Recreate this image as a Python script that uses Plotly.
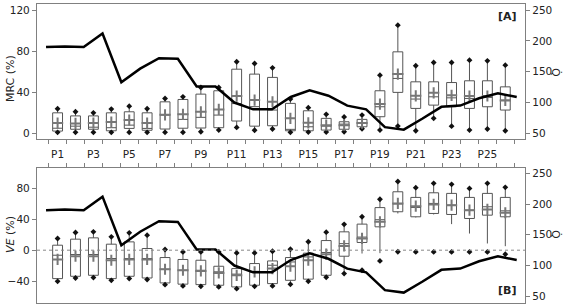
import plotly.graph_objects as go

# ---------------- data ----------------
periods = [f"P{i}" for i in range(1, 27)]
pos = list(range(1, 27))

# Panel A : MRC (%)
mrc_min  = [1, 1, 1, 1, 1, 1, 1, 1, 1.6, 3.2, 5.8, 3, 4.2, 1, 1.2, 1.2, 1.6, 4.5, 3.2, 7.1, 2.5, 14.6, 7, 3.2, 4.2, 2.5]
mrc_q1   = [2.2, 4, 4, 2.5, 4.8, 3, 4.2, 5, 5.2, 5.5, 12, 7, 7.4, 2.5, 2.5, 3.2, 4, 6.4, 16.2, 39.9, 24.3, 27.5, 25.9, 24.3, 25.9, 22.7]
mrc_med  = [5, 7, 6, 5.5, 8, 4.8, 17.8, 13.6, 15.6, 17.8, 29, 26, 22.7, 3.9, 6.4, 7, 9, 9.7, 25.9, 53.5, 33.4, 35.6, 34.6, 34, 35, 32.4]
mrc_q3   = [20, 17, 17, 20, 21, 20, 30.7, 33, 38.2, 41.5, 62.5, 57.7, 54.5, 29.2, 22, 14.6, 11.3, 13.6, 41.5, 79.4, 50.2, 50.2, 49.5, 51.2, 51.2, 45.3]
mrc_max  = [24, 21, 20, 23.6, 26.5, 24, 34, 35.6, 44.7, 44.7, 69.7, 68, 63.8, 33.4, 25, 18.5, 16, 17.8, 56.7, 105.4, 65.8, 69, 69, 71.3, 70.6, 66.4]
mrc_mean = [10, 9.7, 10, 11, 13, 10, 18, 18.5, 21, 23.3, 36.3, 32.4, 30.8, 14.6, 10.3, 8, 8, 10, 28.5, 57.7, 36.6, 39.5, 37, 36.4, 36.4, 32]

# Panel B : VE (%)
ve_min   = [-40.3, -36, -35.5, -39, -36.8, -38, -44.6, -46.3, -46.8, -47.6, -49.8, -46.8, -46.3, -44.2, -40.3, -35, -30.3, -26, -13.9, -2, -2.2, -2.2, -2.2, -2.2, -2.2, -5.2]
ve_lw    = [-40.3, -36, -35.5, -39, -36.8, -38, -44.6, -46.3, -46.8, -47.6, -49.8, -46.8, -46.3, -44.2, -40.3, -35, -30.3, -4.3, -3.8, 47.6, 42.4, 46.3, 33.8, 21.6, 8.7, 5.2]
ve_q1    = [-36.8, -33.8, -32.5, -36.8, -33.8, -36, -42.4, -44, -44.6, -45.4, -47.6, -45.4, -43.3, -39, -37.5, -32.5, -7.8, 10, 30.3, 49.8, 43.3, 47.6, 46.3, 41.1, 45.4, 43.3]
ve_med   = [-6.5, -5.6, -5.6, -10.8, -10.8, -10.8, -24.7, -26, -26, -28, -31, -28, -19.5, -15.2, -8.7, -3, 8.5, 17, 39.5, 60, 55.4, 60.6, 58.4, 51.9, 56.3, 51]
ve_q3    = [6.5, 14.3, 16, 7.8, 10.8, 2.2, -9.5, -12, -13, -20.8, -23.8, -17.3, -13.9, -9.5, -3.8, 12.5, 23.8, 33.8, 55.2, 75.7, 68.4, 74.4, 73.6, 68.4, 73.6, 68.4]
ve_max   = [15.2, 23, 23.8, 17.3, 22.5, 19.5, 0.9, -2.2, -2.2, -2.2, -3.5, -3.5, -1.3, 1.3, 11, 23.4, 33.5, 43.3, 66, 89, 81, 86.6, 85.3, 80.1, 86.6, 81.4]
ve_mean  = [-12, -7.8, -7.8, -13, -12, -12, -24.7, -26, -26.8, -29.4, -32.5, -28, -23.8, -20.8, -13, -5.2, 5.5, 15.2, 36.8, 60.6, 57.1, 59.3, 58.4, 51.9, 52.8, 48.5]

# Flow (right axis, same series in both panels)
q_idx  = list(range(1, 27))
q_flow = [190, 191, 190, 212, 133, 155, 172, 171, 126, 126, 100, 89, 89, 109, 120, 111, 95, 89, 60, 56, 74, 93, 95, 107, 115, 109]

odd_vals = [i for i in pos if i % 2 == 1]
odd_text = [periods[i - 1] for i in odd_vals]

# ---------------- figure ----------------
FONT = "DejaVu Sans"
AX = "#808080"
TXT = "#222222"
FS = 10.5

fig = go.Figure()

def add_panel(xa, ya, lo, q1, med, q3, hi, mean, mn):
    fig.add_trace(go.Box(
        x=pos, q1=q1, median=med, q3=q3, lowerfence=lo, upperfence=hi,
        xaxis=xa, yaxis=ya, boxpoints=False, width=0.55, whiskerwidth=0,
        fillcolor="white", line=dict(color="#555555", width=1), showlegend=False,
        hoverinfo="skip"))
    fig.add_trace(go.Scatter(
        x=pos + pos, y=mn + hi, mode="markers", xaxis=xa, yaxis=ya,
        marker=dict(symbol="diamond", size=4.5, color="#111111"), showlegend=False))
    fig.add_trace(go.Scatter(
        x=pos, y=mean, mode="markers", xaxis=xa, yaxis=ya,
        marker=dict(symbol="cross-thin", size=8, line=dict(color="#777777", width=2)),
        showlegend=False))

add_panel("x", "y", mrc_min, mrc_q1, mrc_med, mrc_q3, mrc_max, mrc_mean, mrc_min)
add_panel("x3", "y3", ve_lw, ve_q1, ve_med, ve_q3, ve_max, ve_mean, ve_min)

fig.add_trace(go.Scatter(x=q_idx, y=q_flow, mode="lines", xaxis="x2", yaxis="y2",
                         line=dict(color="black", width=2.5), showlegend=False))
fig.add_trace(go.Scatter(x=q_idx, y=q_flow, mode="lines", xaxis="x4", yaxis="y4",
                         line=dict(color="black", width=2.5), showlegend=False))

XR = [-0.15, 27.1]
LR = [0.52, 26.44]
top_dom = [0.5485, 1.0]
bot_dom = [0.0, 0.4515]

common_x = dict(range=XR, showline=True, linecolor=AX, linewidth=1.3, mirror=True,
                showgrid=False, zeroline=False, automargin=False,
                minor=dict(tick0=0.5, dtick=1, ticks="outside", ticklen=4, tickcolor=AX, showgrid=False))
common_y = dict(showline=True, linecolor=AX, linewidth=1.3, showgrid=False, zeroline=False,
                ticks="outside", ticklen=4, tickcolor=AX, automargin=False,
                tickfont=dict(family=FONT, size=FS, color=TXT))

fig.update_layout(
    width=567, height=307,
    margin=dict(l=37, r=42, t=4, b=4),
    paper_bgcolor="white", plot_bgcolor="white",
    font=dict(family=FONT, size=FS, color=TXT),
    xaxis=dict(**common_x, domain=[0, 1], anchor="y",
               tickmode="array", tickvals=odd_vals, ticktext=odd_text,
               ticks="outside", ticklen=5, tickcolor="rgba(0,0,0,0)",
               tickfont=dict(family=FONT, size=FS, color=TXT)),
    xaxis2=dict(range=LR, overlaying="x", visible=False, automargin=False),
    yaxis=dict(**common_y, domain=top_dom, anchor="x", range=[-5.5, 126],
               tickvals=[0, 40, 80, 120]),
    yaxis2=dict(**common_y, overlaying="y", side="right", anchor="x", range=[40.8, 260],
                tickvals=[50, 100, 150, 200, 250]),
    xaxis3=dict(**common_x, domain=[0, 1], anchor="y3", side="top",
                tickmode="array", tickvals=[], showticklabels=False),
    xaxis4=dict(range=LR, overlaying="x3", visible=False, automargin=False),
    yaxis3=dict(**common_y, domain=bot_dom, anchor="x3", range=[-68.4, 106.5],
                tickvals=[-40, 0, 40, 80]),
    yaxis4=dict(**common_y, overlaying="y3", side="right", anchor="x3", range=[39.1, 258.6],
                tickvals=[50, 100, 150, 200, 250]),
)

# dotted zero line in panel B
fig.add_shape(type="line", xref="x3 domain", yref="y3", x0=0, x1=1, y0=0, y1=0,
              line=dict(color="#888888", width=1, dash="dot"))

W = 488.0
def px2x(p):
    return (p - 37) / W
def py2y(p):
    return (303 - p) / 299.0

ann = [
    dict(text="MRC (%)", x=px2x(10), y=py2y(79), textangle=-90),
    dict(text="<i>VE</i> (%)", x=px2x(10), y=py2y(235), textangle=-90),
    dict(text="Q\u0307", x=px2x(555), y=py2y(72), textangle=90),
    dict(text="Q\u0307", x=px2x(555), y=py2y(234), textangle=90),
    dict(text="<b>[A]</b>", x=px2x(507), y=py2y(17)),
    dict(text="<b>[B]</b>", x=px2x(507), y=py2y(290)),
]
for a in ann:
    fig.add_annotation(xref="paper", yref="paper", showarrow=False,
                       xanchor="center", yanchor="middle",
                       font=dict(family=FONT, size=11, color=TXT), **a)

fig.write_html("out.html",
               config={"displayModeBar": False},
               post_script="document.body.style.margin='0px';"
                           "document.body.style.padding='0px';"
                           "document.documentElement.style.overflow='hidden';")
